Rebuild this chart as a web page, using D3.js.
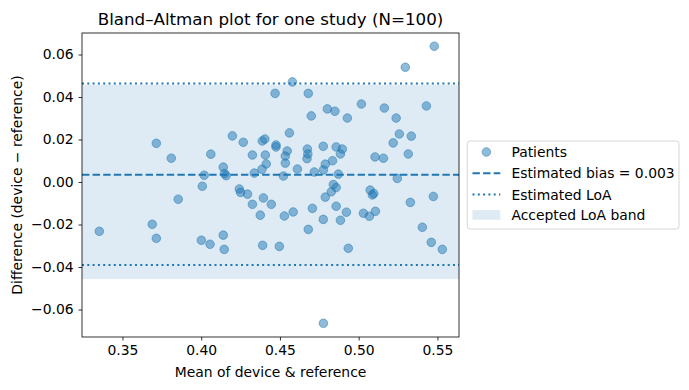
<!DOCTYPE html>
<html>
<head>
<meta charset="utf-8">
<script src="https://cdn.jsdelivr.net/npm/d3@7"></script>
<style>
  html, body { margin: 0; padding: 0; background: #fff; }
  svg { display: block; }
  text { font-family: "DejaVu Sans", sans-serif; fill: #000; }
</style>
</head>
<body>
<svg id="chart" width="689" height="390"></svg>
<script>
// Means (x) and differences (y) of the patients
const meanValues = [
  0.3353, 0.3689, 0.3715, 0.3715, 0.3810, 0.3854, 0.4007, 0.4019, 0.4001, 0.4056,
  0.4061, 0.4140, 0.4146, 0.4140, 0.4148, 0.4158, 0.4198, 0.4267, 0.4325, 0.4337,
  0.4242, 0.4250, 0.4294, 0.4325, 0.4375, 0.4390, 0.4395, 0.4388, 0.4404, 0.4407,
  0.4413, 0.4386, 0.4445, 0.4469, 0.4475, 0.4475, 0.4496, 0.4522, 0.4528, 0.4534,
  0.4534, 0.4546, 0.4560, 0.4579, 0.4584, 0.4611, 0.4680, 0.4699, 0.4674, 0.4677,
  0.4672, 0.4680, 0.4706, 0.4718, 0.4775, 0.4788, 0.4776, 0.4775, 0.4788, 0.4776,
  0.4801, 0.4849, 0.4857, 0.4896, 0.4884, 0.4834, 0.4871, 0.4839, 0.4857, 0.4826,
  0.4857, 0.4884, 0.4922, 0.4928, 0.4934, 0.5017, 0.5030, 0.5068, 0.5106, 0.5073,
  0.5087, 0.5096, 0.5104, 0.5157, 0.5163, 0.5219, 0.5238, 0.5245, 0.5258, 0.5296,
  0.5315, 0.5328, 0.5334, 0.5404, 0.5430, 0.5461, 0.5474, 0.5480, 0.5531
];
const diffValues = [
  -0.0232, -0.0199, -0.0265, 0.0182, 0.0112, -0.0081, -0.0020, 0.0032, -0.0274, -0.0293,
  0.0131, -0.0250, -0.0317, 0.0070, 0.0040, 0.0030, 0.0217, 0.0187, 0.0127, 0.0042,
  -0.0033, -0.0049, -0.0057, -0.0105, -0.0156, -0.0298, -0.0075, 0.0193, 0.0202, 0.0127,
  0.0085, 0.0060, -0.0105, 0.0417, 0.0174, 0.0165, -0.0303, 0.0028, -0.0160, 0.0122,
  0.0089, 0.0146, 0.0231, 0.0471, -0.0141, 0.0061, 0.0417, 0.0311, 0.0155, 0.0132,
  0.0110, -0.0223, -0.0124, 0.0047, 0.0168, 0.0084, 0.0057, -0.0176, -0.0071, -0.0665,
  0.0344, 0.0333, 0.0165, 0.0155, 0.0132, 0.0100, 0.0037, -0.0012, -0.0026, -0.0046,
  -0.0114, -0.0180, -0.0142, 0.0301, -0.0312, 0.0367, -0.0147, -0.0161, -0.0138, -0.0038,
  -0.0061, -0.0054, 0.0118, 0.0112, 0.0348, 0.0184, 0.0301, 0.0017, 0.0226, 0.0540,
  0.0132, -0.0096, 0.0216, -0.0213, 0.0358, -0.0284, -0.0068, 0.0639, -0.0317
];
const biasValue = 0.0034;
const loaValues = [-0.0391, 0.0464];
const bandValues = [-0.0457, 0.0458];
const xTicks = [0.35, 0.40, 0.45, 0.50, 0.55];
const yTicks = [-0.06, -0.04, -0.02, 0.00, 0.02, 0.04, 0.06];
const legendLabels = ["Patients", "Estimated bias = 0.003", "Estimated LoA", "Accepted LoA band"];
const titleText = "Bland\u2013Altman plot for one study (N=100)";
const xLabel = "Mean of device & reference";
const yLabel = "Difference (device \u2212 reference)";

const blue = "#1f77b4";
const svg = d3.select("#chart");
const m = { left: 82, right: 459, top: 33, bottom: 337 };

const x = d3.scaleLinear().domain([0.3243, 0.5637]).range([m.left, m.right]);
const y = d3.scaleLinear().domain([-0.07294, 0.07012]).range([m.bottom, m.top]);

const fmt = v => d3.format(".2f")(v).replace("-", "\u2212");
const lw = 2;
const dashed = `${3.7 * lw},${1.6 * lw}`;
const dotted = `${1 * lw},${1.65 * lw}`;

// band
svg.append("rect")
  .attr("x", m.left).attr("width", m.right - m.left)
  .attr("y", y(bandValues[1])).attr("height", y(bandValues[0]) - y(bandValues[1]))
  .attr("fill", blue).attr("fill-opacity", 0.15);

// points
svg.append("g").selectAll("circle")
  .data(meanValues.map((v, i) => [v, diffValues[i]]))
  .join("circle")
  .attr("cx", d => x(d[0])).attr("cy", d => y(d[1])).attr("r", 4.3)
  .attr("fill", blue).attr("fill-opacity", 0.5)
  .attr("stroke", blue).attr("stroke-opacity", 0.5).attr("stroke-width", 1);

// bias line
svg.append("line")
  .attr("x1", m.left).attr("x2", m.right)
  .attr("y1", y(biasValue)).attr("y2", y(biasValue))
  .attr("stroke", blue).attr("stroke-width", lw).attr("stroke-dasharray", dashed);

// LoA lines
loaValues.forEach(v => {
  svg.append("line")
    .attr("x1", m.left).attr("x2", m.right)
    .attr("y1", y(v)).attr("y2", y(v))
    .attr("stroke", blue).attr("stroke-width", lw).attr("stroke-dasharray", dotted);
});

// axes
const xAxis = svg.append("g").attr("transform", `translate(0,${m.bottom})`)
  .call(d3.axisBottom(x).tickValues(xTicks).tickFormat(d3.format(".2f")).tickSize(3.5).tickPadding(4.9));
const yAxis = svg.append("g").attr("transform", `translate(${m.left},0)`)
  .call(d3.axisLeft(y).tickValues(yTicks).tickFormat(fmt).tickSize(3.5).tickPadding(4.9));
[xAxis, yAxis].forEach(a => {
  a.select(".domain").remove();
  a.selectAll("line").attr("stroke", "#000").attr("stroke-width", 0.8);
  a.selectAll("text").style("font-family", "DejaVu Sans").style("font-size", "13.9px").attr("fill", "#000");
});

// frame
svg.append("rect")
  .attr("x", m.left).attr("y", m.top)
  .attr("width", m.right - m.left).attr("height", m.bottom - m.top)
  .attr("fill", "none").attr("stroke", "#000").attr("stroke-width", 0.8);

// title and labels
svg.append("text").attr("x", (m.left + m.right) / 2).attr("y", 24.5)
  .attr("text-anchor", "middle").style("font-size", "16.7px").text(titleText);
svg.append("text").attr("x", (m.left + m.right) / 2).attr("y", 377)
  .attr("text-anchor", "middle").style("font-size", "13.9px").text(xLabel);
svg.append("text")
  .attr("transform", `translate(22,${(m.top + m.bottom) / 2}) rotate(-90)`)
  .attr("text-anchor", "middle").style("font-size", "13.9px").text(yLabel);

// legend
const lg = svg.append("g");
lg.append("rect").attr("x", 467.3).attr("y", 141).attr("width", 211.7).attr("height", 88)
  .attr("rx", 2.8).attr("fill", "#fff").attr("fill-opacity", 0.8)
  .attr("stroke", "#cccccc").attr("stroke-width", 0.8);
const rowsY = [152, 173.3, 194.5, 215];
const hx0 = 472.5, hx1 = 500.3;
lg.append("circle").attr("cx", (hx0 + hx1) / 2).attr("cy", rowsY[0]).attr("r", 4.3)
  .attr("fill", blue).attr("fill-opacity", 0.5).attr("stroke", blue).attr("stroke-opacity", 0.5);
lg.append("line").attr("x1", hx0).attr("x2", hx1).attr("y1", rowsY[1]).attr("y2", rowsY[1])
  .attr("stroke", blue).attr("stroke-width", lw).attr("stroke-dasharray", dashed);
lg.append("line").attr("x1", hx0).attr("x2", hx1).attr("y1", rowsY[2]).attr("y2", rowsY[2])
  .attr("stroke", blue).attr("stroke-width", lw).attr("stroke-dasharray", dotted);
lg.append("rect").attr("x", hx0).attr("y", rowsY[3] - 4.9).attr("width", hx1 - hx0).attr("height", 9.7)
  .attr("fill", blue).attr("fill-opacity", 0.15);
legendLabels.forEach((t, i) => {
  lg.append("text").attr("x", 511.4).attr("y", rowsY[i]).attr("dy", "0.36em")
    .style("font-size", "13.9px").text(t);
});
</script>
</body>
</html>
